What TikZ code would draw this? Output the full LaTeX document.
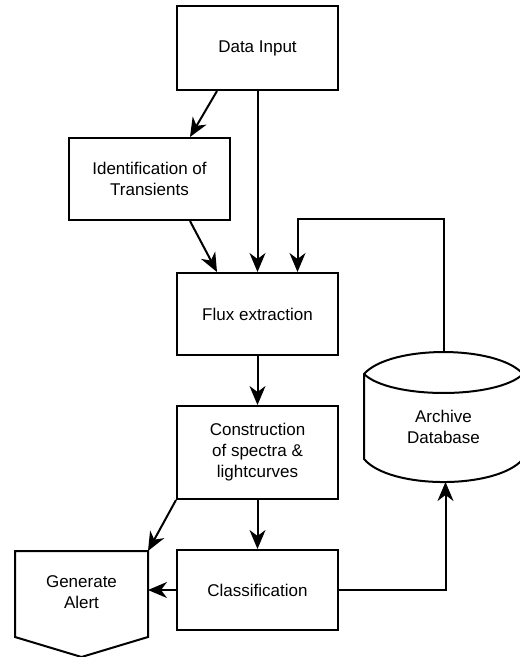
\documentclass[tikz,border=0pt]{standalone}
\usepackage{fontspec}
\setmainfont{Liberation Sans}
\usetikzlibrary{arrows.meta,calc}
\tikzset{
  procbox/.style={draw=black, line width=2pt, fill=white, minimum width=161pt, align=center, inner sep=0pt},
  conn/.style={line width=2pt, -{Stealth[length=19pt,width=16pt,inset=6pt]}},
  shapeline/.style={draw=black, line width=2pt, line join=miter}
}
\begin{document}
\begin{tikzpicture}[x=1pt,y=-1pt,font=\fontsize{17}{21}\selectfont]
\useasboundingbox (0,0) rectangle (520,657);
\node[procbox, minimum height=84pt] (DI) at (257.5,48) {Data Input};
\node[procbox, minimum height=82pt] (ID) at (149.5,179) {Identification of\\Transients};
\node[procbox, minimum height=82pt] (FX) at (257.5,314) {Flux extraction};
\node[procbox, minimum height=93pt] (CS) at (257.5,452.5) {Construction\\of spectra \&\\lightcurves};
\node[procbox, minimum height=80pt] (CL) at (257.5,590) {Classification};
% Generate Alert (off-page connector shape)
\draw[shapeline] (15,551) -- (148,551) -- (148,637) -- (81.5,657) -- (15,637) -- cycle;
\node[align=center] (GA) at (81.5,592) {Generate\\Alert};
\coordinate (GAtr) at (148,551);
\coordinate (GAr) at (148,590);
% Archive Database (cylinder)
\draw[shapeline] (364,374) .. controls (390,344.7) and (497,344.7) .. (523,374)
  -- (523,459) .. controls (497,489.7) and (390,489.7) .. (364,459) -- cycle;
\draw[shapeline] (364,374) .. controls (390,399.3) and (497,399.3) .. (523,374);
\node[align=center] (AD) at (443.5,427) {Archive\\Database};
\coordinate (ADtop) at (443.5,352);
\coordinate (ADbot) at (445.5,482);
% connectors
\draw[conn] ([xshift=-40.5pt]DI.south) -- ([xshift=40.5pt]ID.north);
\draw[conn] (DI.south) -- (FX.north);
\draw[conn] ([xshift=40.5pt]ID.south) -- ([xshift=-40.5pt]FX.north);
\draw[conn] (ADtop) -- (443.5,219) -- (297.5,219) -- ([xshift=40pt]FX.north);
\draw[conn] (FX.south) -- (CS.north);
\draw[conn] (CS.south) -- (CL.north);
\draw[conn] (CS.south west) -- (GAtr);
\draw[conn] (CL.west) -- (GAr);
\draw[conn] (CL.east) -- (445.5,590) -- (ADbot);
\end{tikzpicture}
\end{document}
